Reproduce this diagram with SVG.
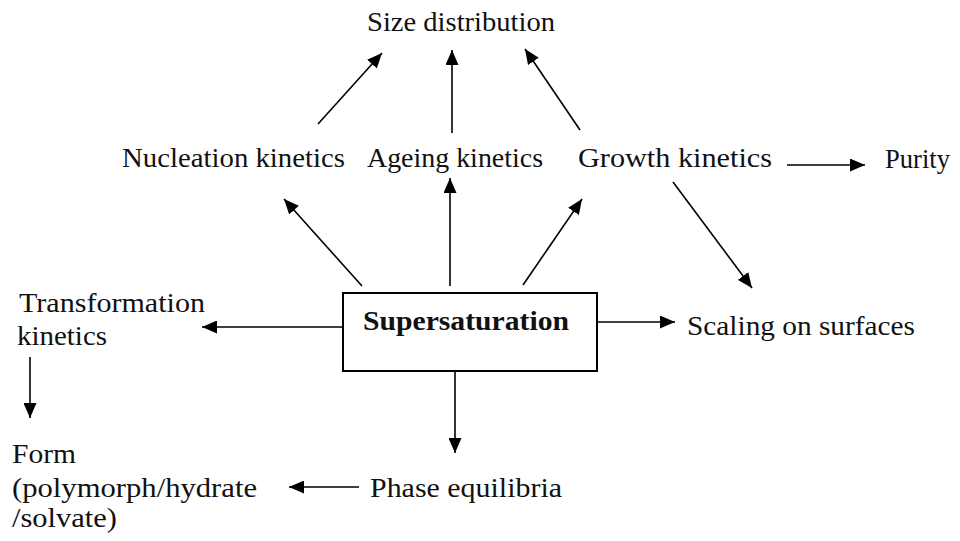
<svg xmlns="http://www.w3.org/2000/svg" width="960" height="541" viewBox="0 0 960 541">
<style>
  text { font-family: "Liberation Serif", "Times New Roman", serif; font-size: 27px; fill: #111; }
  .b { font-weight: bold; }
  .c { stroke: #000; stroke-width: 1.6; fill: none; }
  .box { stroke: #000; stroke-width: 2; fill: #fff; }
</style>
<defs>
  <marker id="ah" markerUnits="userSpaceOnUse" markerWidth="16" markerHeight="13" refX="15" refY="6.5" orient="auto">
    <path d="M0,0 L15,6.5 L0,13 z" fill="#000"/>
  </marker>
</defs>
<rect width="960" height="541" fill="#fff"/>

<g id="connectors">
  <line class="c" x1="318" y1="124" x2="382" y2="53" marker-end="url(#ah)"/>
  <line class="c" x1="452" y1="133" x2="452" y2="50" marker-end="url(#ah)"/>
  <line class="c" x1="580" y1="130" x2="525" y2="49" marker-end="url(#ah)"/>
  <line class="c" x1="787" y1="165" x2="865" y2="165" marker-end="url(#ah)"/>
  <line class="c" x1="673" y1="182" x2="752" y2="288" marker-end="url(#ah)"/>
  <line class="c" x1="362" y1="286" x2="284" y2="199" marker-end="url(#ah)"/>
  <line class="c" x1="450" y1="286" x2="450" y2="178" marker-end="url(#ah)"/>
  <line class="c" x1="523" y1="285" x2="582" y2="199" marker-end="url(#ah)"/>
  <line class="c" x1="343" y1="327" x2="202" y2="327" marker-end="url(#ah)"/>
  <line class="c" x1="597" y1="322" x2="675" y2="322" marker-end="url(#ah)"/>
  <line class="c" x1="455" y1="371" x2="455" y2="453" marker-end="url(#ah)"/>
  <line class="c" x1="30" y1="357" x2="30" y2="418" marker-end="url(#ah)"/>
  <line class="c" x1="359" y1="487" x2="289" y2="487" marker-end="url(#ah)"/>
</g>

<g id="supersaturation">
  <rect class="box" x="343" y="293" width="254" height="78"/>
  <text class="b" x="363" y="330" textLength="206" lengthAdjust="spacingAndGlyphs">Supersaturation</text>
</g>
<g id="size-distribution">
  <text x="367" y="31" textLength="188" lengthAdjust="spacingAndGlyphs">Size distribution</text>
</g>
<g id="nucleation-kinetics">
  <text x="122" y="167" textLength="223" lengthAdjust="spacingAndGlyphs">Nucleation kinetics</text>
</g>
<g id="ageing-kinetics">
  <text x="367" y="167" textLength="176" lengthAdjust="spacingAndGlyphs">Ageing kinetics</text>
</g>
<g id="growth-kinetics">
  <text x="578" y="167" textLength="194" lengthAdjust="spacingAndGlyphs">Growth kinetics</text>
</g>
<g id="purity">
  <text x="885" y="168" textLength="65" lengthAdjust="spacingAndGlyphs">Purity</text>
</g>
<g id="scaling">
  <text x="687" y="335" textLength="228" lengthAdjust="spacingAndGlyphs">Scaling on surfaces</text>
</g>
<g id="transformation-kinetics">
  <text x="19" y="312" textLength="186" lengthAdjust="spacingAndGlyphs">Transformation</text>
  <text x="17" y="345" textLength="90" lengthAdjust="spacingAndGlyphs">kinetics</text>
</g>
<g id="form">
  <text x="12" y="463" textLength="64" lengthAdjust="spacingAndGlyphs">Form</text>
  <text x="12" y="497" textLength="245" lengthAdjust="spacingAndGlyphs">(polymorph/hydrate</text>
  <text x="12" y="527" textLength="105" lengthAdjust="spacingAndGlyphs">/solvate)</text>
</g>
<g id="phase-equilibria">
  <text x="370" y="497" textLength="192" lengthAdjust="spacingAndGlyphs">Phase equilibria</text>
</g>
</svg>
